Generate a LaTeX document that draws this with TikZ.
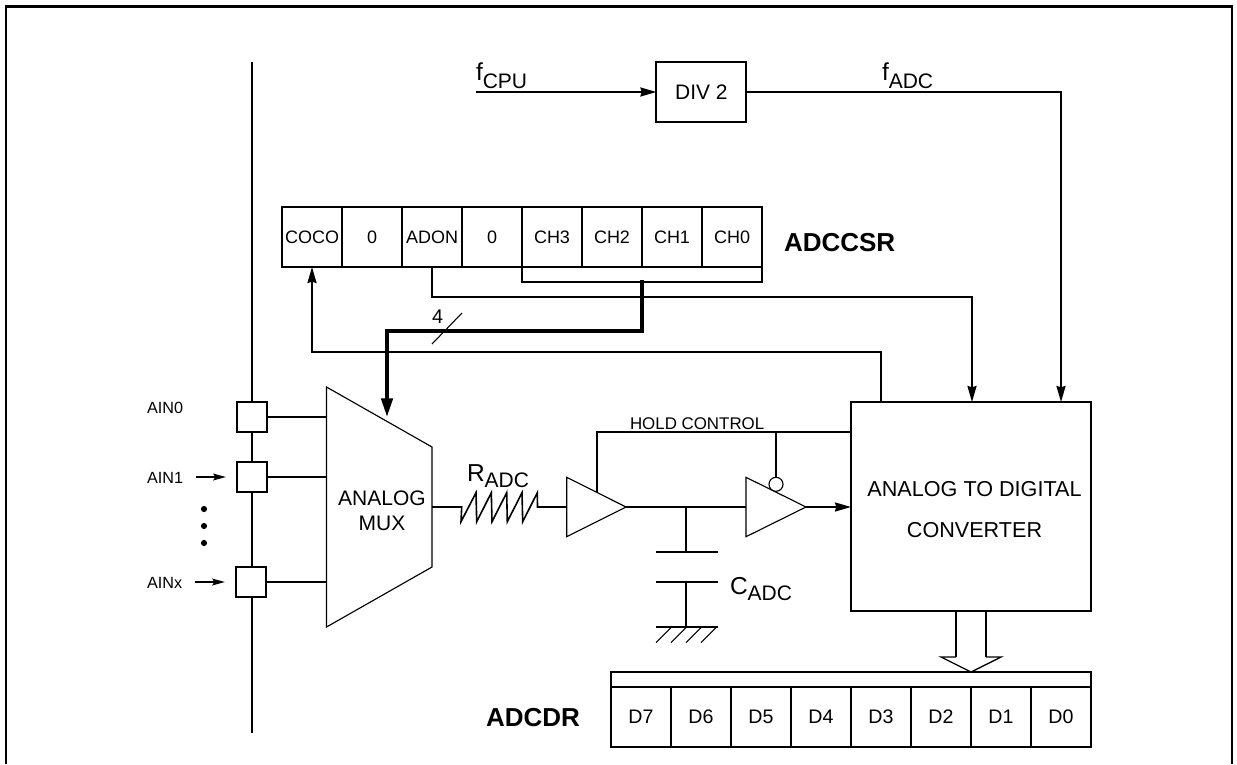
\documentclass[tikz,border=0pt]{standalone}
\usepackage{fontspec}
\setmainfont{Liberation Sans}
\usetikzlibrary{arrows.meta}
\newcommand{\fs}[1]{\fontsize{\dimexpr #1pt*3/4\relax}{\dimexpr #1pt*9/10\relax}\selectfont}
\newcommand{\subbed}[3]{{\fs{24.5}#1}\raisebox{-#3pt}{\fs{21}#2}}
\tikzset{
  wire/.style={line width=1.5pt},
  thin wire/.style={line width=0.8pt},
  gate/.style={line width=0.85pt, fill=white},
  tip/.style={-{Stealth[length=12pt,width=6.75pt,inset=1pt]}},
  small tip/.style={-{Stealth[length=9.5pt,width=5pt,inset=1.5pt]}},
  fat tip/.style={-{Stealth[length=14pt,width=8.5pt,inset=0pt]}},
  box/.style={draw, line width=1.5pt, inner sep=0pt, outer sep=0pt, align=center},
  cell/.style={box, minimum width=45pt, minimum height=45pt, font=\fs{18}},
  dcell/.style={box, minimum width=45pt, minimum height=45pt, font=\fs{19.6}},
  pad/.style={box, minimum width=22.5pt, minimum height=22.5pt},
  lbl/.style={inner sep=0pt, outer sep=0pt, anchor=base west},
  ainl/.style={lbl, font=\fs{16.2}},
  title/.style={lbl, font=\fs{26}\bfseries},
}
\begin{document}
\begin{tikzpicture}[x=0.75pt,y=-0.75pt]
\useasboundingbox (0,0) rectangle (1237,764);
% outer frame
\coordinate (fbl) at (6,764);
\coordinate (ftl) at (6,6.5);
\coordinate (ftr) at (1232,6.5);
\coordinate (fbr) at (1232,764);
\draw[line width=1.6pt] (fbl) -- (ftl) -- (ftr) -- (fbr);
% bus
\coordinate (bust) at (252,62);
\coordinate (busb) at (252,733);
\draw[wire] (bust) -- (busb);
% pads
\node[pad,fill=white] (p0) at (252,417) {};
\node[pad,fill=white] (p1) at (252,477) {};
\node[pad,fill=white] (px) at (251,582) {};
% mux
\coordinate (m1) at (326.5,387);
\coordinate (m2) at (432,447);
\coordinate (m3) at (432,567);
\coordinate (m4) at (326.5,627);
\draw[gate] (m1) -- (m2) -- (m3) -- (m4) -- cycle;
\node[align=center,inner sep=0pt,font=\fs{21}] (muxl) at (382,511) {ANALOG\\MUX};
\coordinate (m0) at (326.5,417);
\coordinate (mm1) at (326.5,477);
\coordinate (mmx) at (326.5,582);
\draw[wire] (p0.east) -- (m0);
\draw[wire] (p1.east) -- (mm1);
\draw[wire] (px.east) -- (mmx);
% AIN labels
\node[ainl] (a0) at (147,413) {AIN0};
\node[ainl] (a1) at (147,483) {AIN1};
\node[ainl] (ax) at (147,588) {AINx};
\coordinate (a1s) at (196,477);
\coordinate (a1e) at (226,477);
\coordinate (axs) at (195,582);
\coordinate (axe) at (225,582);
\draw[wire,small tip] (a1s) -- (a1e);
\draw[wire,small tip] (axs) -- (axe);
\foreach \yy in {509,526,543} \fill (204,\yy) circle[radius=3.1];
% resistor
\coordinate (rin) at (432,507);
\draw[line width=1.2pt,line join=miter] (rin) -- (461.7,507) -- (461,521.7) -- (476,492.7) -- (476.7,521.7) -- (491.3,492.7) -- (492,521.7) -- (506.7,492.7) -- (507.3,521.7) -- (522,492.7) -- (522.7,521.7) -- (537.3,492.7) -- (537.5,507) -- (566.7,507);
\node[lbl] (radc) at (467,481) {\subbed{R}{ADC}{4.8}};
% buffer 1
\coordinate (b1a) at (566.7,477.3);
\coordinate (b1b) at (566.7,536.7);
\coordinate (b1c) at (626,507);
\draw[gate] (b1a) -- (b1b) -- (b1c) -- cycle;
% inverter
\coordinate (b2a) at (746,477.3);
\coordinate (b2b) at (746,536.7);
\coordinate (b2c) at (806,507);
\draw[gate] (b2a) -- (b2b) -- (b2c) -- cycle;
\draw[gate] (776,484.3) circle[radius=7];
% wire b1 -> b2
\draw[wire] (b1c) -- (b2a |- b1c);
% cap
\coordinate (capt) at (686,507);
\coordinate (capp1) at (686,551.7);
\coordinate (capp2) at (686,582);
\coordinate (gnd) at (686,626.7);
\draw[wire] (capt) -- (capp1);
\draw[wire] (capp2) -- (gnd);
\draw[wire] (656,551.7) -- (717.7,551.7);
\draw[wire] (656,582) -- (717.7,582);
\draw[wire] (656,626.7) -- (717.7,626.7);
\foreach \xx in {656,671,686,701} \draw[line width=0.8pt] (\xx,642.5) -- (\xx+16,626.7);
\node[lbl] (cadc) at (730,594) {\subbed{C}{ADC}{5.2}};
% ADC
\node[box,minimum width=180pt,minimum height=156.75pt,anchor=north west] (adc) at (851,402) {};
\node[inner sep=0pt,font=\fs{21.6}] (adc1) at (974.5,489) {ANALOG TO DIGITAL};
\node[inner sep=0pt,font=\fs{21.6}] (adc2) at (974.5,530) {CONVERTER};
% output
\coordinate (adcin) at (851,507);
\draw[wire,tip] (b2c) -- (adcin);
% hold control
\coordinate (h1) at (596.7,492);
\coordinate (h2) at (596.7,431.7);
\coordinate (h3) at (851,431.7);
\coordinate (h4) at (776,431.7);
\coordinate (h5) at (776,477.3);
\draw[wire] (h1) -- (h2) -- (h3);
\draw[wire] (h4) -- (h5);
\node[lbl,font=\fs{16.9}] (hold) at (630,429) {HOLD CONTROL};
% register
\foreach \nm/\txt [count=\i from 0] in {r7/COCO,r6/0,r5/ADON,r4/0,r3/CH3,r2/CH2,r1/CH1,r0/CH0}
  \node[cell] (\nm) at (312+60*\i,237) {\txt};
\node[title] (csrl) at (784,251) {ADCCSR};
% CH bracket
\coordinate (c1) at (522,267);
\coordinate (c2) at (522,282);
\coordinate (c3) at (762,282);
\coordinate (c4) at (762,267);
\draw[wire] (c1) -- (c2) -- (c3) -- (c4);
% ADON wire
\coordinate (ad1) at (432,296.7);
\coordinate (ad2) at (972,296.7);
\coordinate (ad3) at (972,402);
\draw[wire,tip] (ad1 |- r5.south) -- (ad1) -- (ad2) -- (ad3);
% 4-bit bus
\coordinate (t1) at (642,280);
\coordinate (t2) at (642,331);
\coordinate (t3) at (387,331);
\coordinate (t4) at (387,417);
\draw[line width=2.7pt,fat tip] (t1) -- (t2) -- (t3) -- (t4);
\coordinate (sl1) at (432,344);
\coordinate (sl2) at (462,313);
\draw[thin wire] (sl1) -- (sl2);
\node[lbl,font=\fs{19.8}] (four) at (432,323) {4};
% COCO
\coordinate (cc1) at (881,402);
\coordinate (cc2) at (881,352);
\coordinate (cc3) at (312,352);
\draw[wire,tip] (cc1) -- (cc2) -- (cc3) -- (r7.south);
% top
\node[box,minimum width=67.5pt,minimum height=45pt,font=\fs{21}] (div) at (701.4,92) {DIV 2};
\coordinate (fs) at (476,92);
\draw[wire,tip] (fs) -- (div.west);
\coordinate (fa1) at (1061,92);
\coordinate (fa2) at (1061,402);
\draw[wire,tip] (div.east) -- (fa1) -- (fa2);
\node[lbl] (fcpu) at (476,80) {\subbed{f}{CPU}{6}};
\node[lbl] (fadc) at (882,80) {\subbed{f}{ADC}{6}};
% data reg
\node[box,minimum width=360pt,minimum height=11.25pt,anchor=north west] (dtop) at (611,672) {};
\foreach \nm/\txt [count=\i from 0] in {d7/D7,d6/D6,d5/D5,d4/D4,d3/D3,d2/D2,d1/D1,d0/D0}
  \node[dcell] (\nm) at (641+60*\i,717) {\txt};
\node[title] (cdrl) at (486,726) {ADCDR};
% hollow arrow
\coordinate (ha1) at (956,611);
\coordinate (ha2) at (956,657);
\coordinate (ha3) at (941,657);
\coordinate (ha4) at (971,672);
\coordinate (ha5) at (1001,657);
\coordinate (ha6) at (986,657);
\coordinate (ha7) at (986,611);
\draw[wire] (ha1) -- (ha2);
\draw[wire] (ha6) -- (ha7);
\draw[line width=1pt] (ha2) -- (ha3) -- (ha4) -- (ha5) -- (ha6);
\end{tikzpicture}
\end{document}
